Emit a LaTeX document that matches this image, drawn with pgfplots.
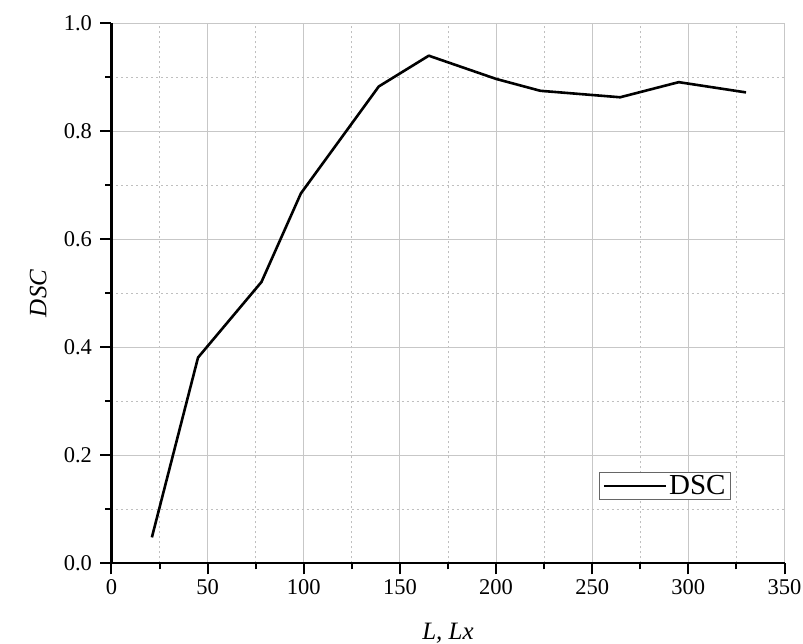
\documentclass[border=0pt]{standalone}
\usepackage{fontspec}
\setmainfont{Liberation Serif}
\usepackage{pgfplots}
\pgfplotsset{compat=1.18}
\begin{document}
\begin{tikzpicture}
\useasboundingbox (-111.5pt,-80.7pt) rectangle (691.5pt,563.3pt);
\begin{axis}[
  at={(0pt,0pt)}, anchor=south west,
  scale only axis,
  width=673pt, height=540pt,
  xmin=0, xmax=350, ymin=0, ymax=1.0,
  xtick={0,50,...,350},
  ytick={0,0.2,...,1.0},
  minor x tick num=1, minor y tick num=1,
  axis lines=left,
  axis line style={-, line width=2.4pt},
  tick align=outside,
  major tick length=11pt, minor tick length=6pt,
  every tick/.style={black, line width=2pt},
  grid=both,
  major grid style={line width=1pt, black!22},
  minor grid style={line width=0.9pt, black!25, dash pattern=on 2pt off 3pt},
  /pgf/number format/assume math mode=true,
  yticklabel style={/pgf/number format/fixed, /pgf/number format/fixed zerofill, /pgf/number format/precision=1, font=\fontsize{22.5}{26}\selectfont, xshift=-5pt},
  xticklabel style={font=\fontsize{22.5}{26}\selectfont, yshift=-2pt},
  xlabel={\textit{L, Lx}},
  ylabel={\textit{DSC}},
  xlabel style={at={(axis description cs:0.5,-0.13)}, anchor=center, font=\fontsize{25}{29}\selectfont},
  ylabel style={at={(axis description cs:-0.109,0.5)}, anchor=center, font=\fontsize{25}{29}\selectfont},
  legend style={at={(axis description cs:0.9205,0.117)}, anchor=south east,
    draw=black!60, line width=0.9pt, font=\fontsize{29}{33}\selectfont,
    inner xsep=3pt, inner ysep=1.5pt},
  legend image code/.code={\draw[#1, line width=2.6pt] (0pt,0pt) -- (62pt,0pt);},
]
\addplot[black, line width=2.6pt, line join=round] coordinates {
(21,0.048) (45,0.381) (78,0.521) (98.5,0.685) (139,0.883) (165,0.940)
(200,0.897) (223,0.875) (264.5,0.863) (295,0.891) (330,0.872)
};
\addlegendentry{DSC}
\end{axis}
\end{tikzpicture}
\end{document}
